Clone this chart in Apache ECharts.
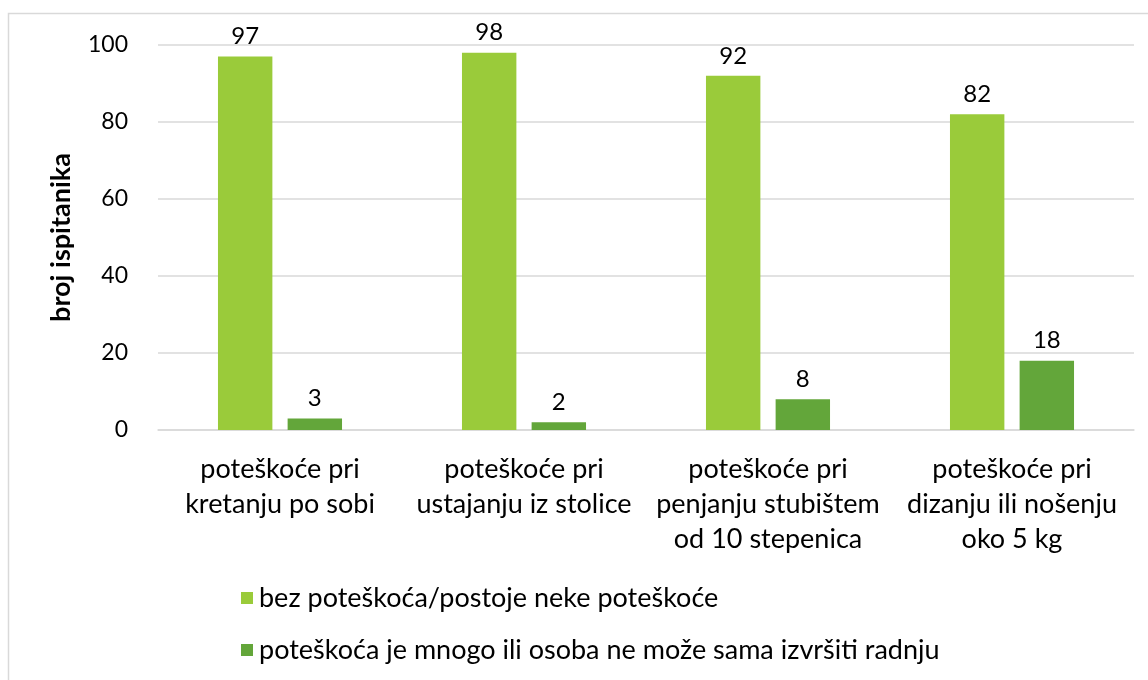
<!DOCTYPE html>
<html>
<head>
<meta charset="utf-8">
<script src="https://cdn.jsdelivr.net/npm/echarts@6/dist/echarts.min.js"></script>
<style>html,body{margin:0;padding:0;background:#fff}#c{width:1148px;height:680px}</style>
</head>
<body>
<div id="c"></div>
<script>
const categories = [
  "poteškoće pri\nkretanju po sobi",
  "poteškoće pri\nustajanju iz stolice",
  "poteškoće pri\npenjanju stubištem\nod 10 stepenica",
  "poteškoće pri\ndizanju ili nošenju\noko 5 kg"
];
const seriesNames = [
  "bez poteškoća/postoje neke poteškoće",
  "poteškoća je mnogo ili osoba ne može sama izvršiti radnju"
];
const valuesNoDifficulty = [97, 98, 92, 82];
const valuesMuchDifficulty = [3, 2, 8, 18];
const yAxisTitle = "broj ispitanika";

const FONT = "Lato";
const chart = echarts.init(document.getElementById('c'), null, {renderer: 'canvas'});
const labelStyle = {show: true, position: 'top', distance: 8, color: '#000', fontFamily: FONT, fontSize: 24};
chart.setOption({
  backgroundColor: '#fff',
  textStyle: {fontFamily: FONT},
  graphic: [{
    type: 'rect', shape: {x: 8.5, y: 13.5, width: 1160, height: 700},
    style: {fill: 'none', stroke: '#d9d9d9', lineWidth: 1.5}, silent: true, z: -10
  }],
  grid: {left: 158, right: 14, top: 45, bottom: 250, containLabel: false},
  legend: {
    orient: 'vertical', left: 236, top: 578, itemGap: 22,
    itemWidth: 12, itemHeight: 12, icon: 'rect',
    textStyle: {fontFamily: FONT, fontSize: 27, lineHeight: 30, color: '#000', padding: [0, 0, 0, 1]},
    data: seriesNames
  },
  xAxis: {
    type: 'category', data: categories,
    axisLine: {show: true, lineStyle: {color: '#d9d9d9', width: 1.5}},
    axisTick: {show: false},
    axisLabel: {color: '#000', fontFamily: FONT, fontSize: 27, lineHeight: 35, margin: 22, interval: 0}
  },
  yAxis: {
    type: 'value', min: 0, max: 100, interval: 20,
    name: yAxisTitle, nameLocation: 'middle', nameGap: 83,
    nameTextStyle: {fontFamily: FONT, fontSize: 27, fontWeight: 'bold', color: '#000'},
    axisLine: {show: false}, axisTick: {show: false},
    axisLabel: {color: '#000', fontFamily: FONT, fontSize: 23, margin: 30},
    splitLine: {lineStyle: {color: '#d9d9d9', width: 1.5}}
  },
  series: [
    {name: seriesNames[0], type: 'bar', data: valuesNoDifficulty, barWidth: '22.3%', barGap: '28%',
     itemStyle: {color: '#9ACB3A'}, label: labelStyle},
    {name: seriesNames[1], type: 'bar', data: valuesMuchDifficulty, barWidth: '22.3%',
     itemStyle: {color: '#63A63A'}, label: labelStyle}
  ]
});
</script>
</body>
</html>
